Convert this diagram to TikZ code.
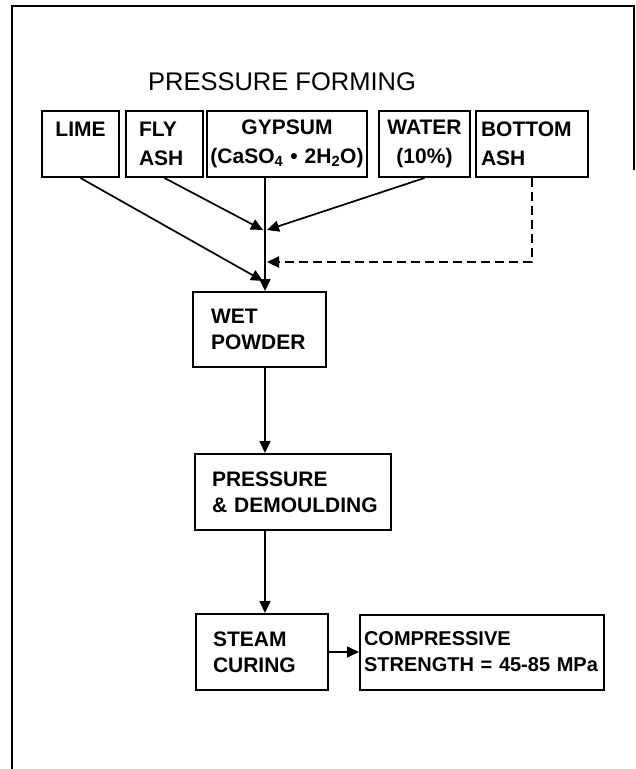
\documentclass[tikz,border=0pt]{standalone}
\usepackage{fontspec}
\setmainfont{Liberation Sans}
\usetikzlibrary{arrows.meta, calc}

\begin{document}
\begin{tikzpicture}[
    x=1pt, y=-1pt,
    box/.style={draw, line width=2pt, inner ysep=0pt,
        font=\fontsize{21}{26}\selectfont\bfseries},
    toprow/.style={box, minimum height=66pt,
        font=\fontsize{21}{29}\selectfont\bfseries},
    arr/.style={-{Triangle[length=12pt, width=11pt]}, line width=1.7pt},
    dashline/.style={arr, line width=2.2pt, dash pattern=on 9pt off 5pt},
]
    \useasboundingbox (0,0) rectangle (636,769);
    % frame
    \draw[line width=1.6pt] (12,769) -- (12,6) -- (634,6) -- (634,170);

    \node (title) at (282,82) {\fontsize{25.5}{25.5}\selectfont PRESSURE FORMING};

    % raw materials
    \node[toprow, align=center, text width=69pt, inner xsep=4pt] (lime) at (80.5,144) {LIME\\\mbox{}};
    \node[toprow, align=left, text width=51pt, inner xsep=13pt] (flyash) at (164.5,144) {FLY\\ASH};
    \node[toprow, align=center, text width=158pt, inner xsep=1pt] (gypsum) at (287,144)
        {GYPSUM\\(CaSO\textsubscript{4} \textbullet{} 2H\textsubscript{2}O)};
    \node[toprow, align=center, text width=85pt, inner xsep=3pt] (water) at (424.5,144) {WATER\\(10\%)};
    \node[toprow, align=left, text width=102pt, inner xsep=5pt] (bottomash) at (532,144) {BOTTOM\\ASH};

    % process steps
    \node[box, align=left, minimum height=75pt, text width=97pt, inner xsep=18pt] (wetpowder) at (259.5,329.5) {WET\\POWDER};
    \node[box, align=left, minimum height=76pt, text width=162pt, inner xsep=17pt] (pressure) at (293,492) {PRESSURE\\\mbox{\& DEMOULDING}};
    \node[box, align=left, minimum height=76pt, text width=98pt, inner xsep=17pt] (steam) at (262,652) {STEAM\\CURING};
    \node[box, align=left, minimum height=75pt, text width=236pt, inner xsep=4pt,
        font=\fontsize{20}{26}\selectfont\bfseries] (strength) at (482,652) {COMPRESSIVE\\STRENGTH = 45-85 MPa};

    \coordinate (spine) at (265,0);
    \coordinate (joinup) at (265,230);
    \coordinate (joindash) at (267,262);
    \coordinate (joinlow) at (263,281);

    \draw[arr] (lime.south) -- (joinlow);
    \draw[arr] (flyash.south) -- ([xshift=-2pt]joinup);
    \draw[arr] (water.south) -- ([xshift=2pt]joinup);
    \draw[arr] (gypsum.south -| spine) -- (wetpowder.north -| spine);
    \draw[dashline] (bottomash.south) |- (joindash);
    \draw[arr] (wetpowder.south -| spine) -- (pressure.north -| spine);
    \draw[arr] (pressure.south -| spine) -- (steam.north -| spine);
    \draw[arr] (steam) -- (strength);
\end{tikzpicture}
\end{document}
